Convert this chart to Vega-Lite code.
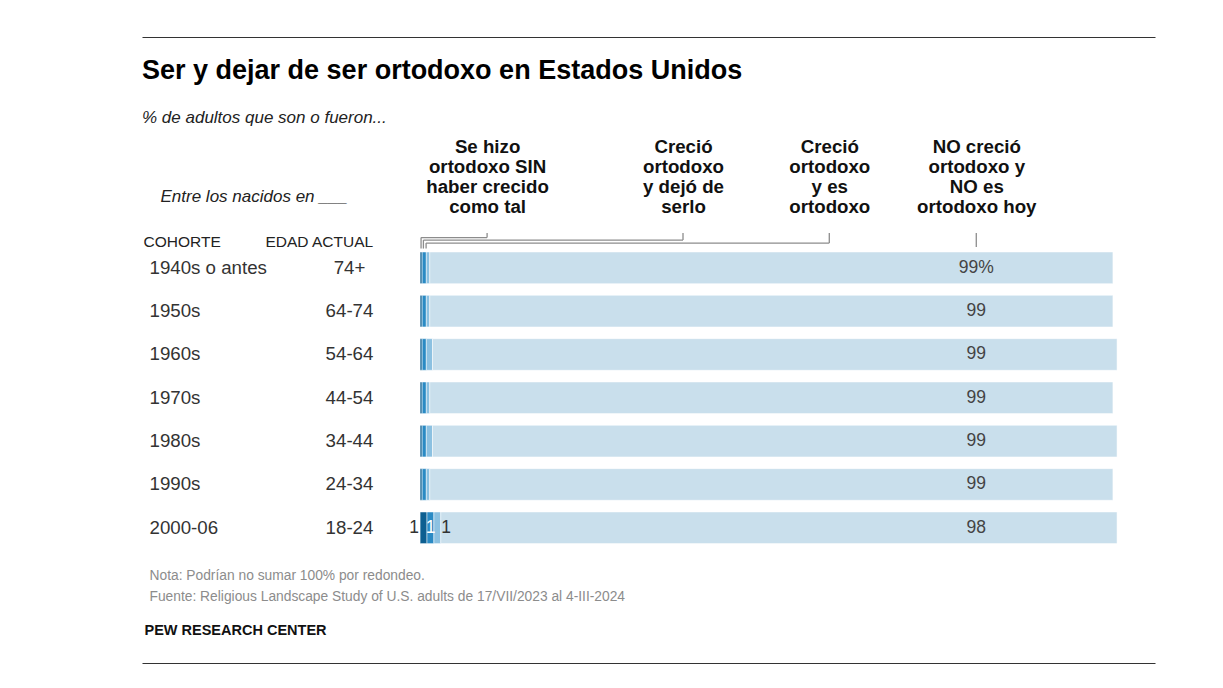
{
  "$schema": "https://vega.github.io/schema/vega-lite/v6.json",
  "width": 1013,
  "height": 626,
  "autosize": "none",
  "padding": {"left": 142, "top": 37, "right": 68, "bottom": 25},
  "background": "#ffffff",
  "config": {"view": {"stroke": null}, "font": "Liberation Sans"},
  "title": {
    "text": "Ser y dejar de ser ortodoxo en Estados Unidos",
    "subtitle": "% de adultos que son o fueron...",
    "anchor": "start",
    "frame": "group",
    "font": "Liberation Sans",
    "fontSize": 27,
    "fontWeight": "bold",
    "color": "#000000",
    "subtitleFont": "Liberation Sans",
    "subtitleFontStyle": "italic",
    "subtitleFontSize": 17,
    "subtitleColor": "#222222",
    "subtitlePadding": 25,
    "offset": -90
  },
  "data": {
    "values": [
      {"cohort": "1940s o antes", "cat": "Se hizo ortodoxo SIN haber crecido como tal", "orden": 1, "value": 0.3},
      {"cohort": "1940s o antes", "cat": "Creció ortodoxo y dejó de serlo", "orden": 2, "value": 0.6},
      {"cohort": "1940s o antes", "cat": "Creció ortodoxo y es ortodoxo", "orden": 3, "value": 0.5},
      {"cohort": "1940s o antes", "cat": "NO creció ortodoxo y NO es ortodoxo hoy", "orden": 4, "value": 99.0, "etiqueta": "99%"},
      {"cohort": "1950s", "cat": "Se hizo ortodoxo SIN haber crecido como tal", "orden": 1, "value": 0.3},
      {"cohort": "1950s", "cat": "Creció ortodoxo y dejó de serlo", "orden": 2, "value": 0.6},
      {"cohort": "1950s", "cat": "Creció ortodoxo y es ortodoxo", "orden": 3, "value": 0.5},
      {"cohort": "1950s", "cat": "NO creció ortodoxo y NO es ortodoxo hoy", "orden": 4, "value": 99.0, "etiqueta": "99"},
      {"cohort": "1960s", "cat": "Se hizo ortodoxo SIN haber crecido como tal", "orden": 1, "value": 0.3},
      {"cohort": "1960s", "cat": "Creció ortodoxo y dejó de serlo", "orden": 2, "value": 0.6},
      {"cohort": "1960s", "cat": "Creció ortodoxo y es ortodoxo", "orden": 3, "value": 0.9},
      {"cohort": "1960s", "cat": "NO creció ortodoxo y NO es ortodoxo hoy", "orden": 4, "value": 99.2, "etiqueta": "99"},
      {"cohort": "1970s", "cat": "Se hizo ortodoxo SIN haber crecido como tal", "orden": 1, "value": 0.3},
      {"cohort": "1970s", "cat": "Creció ortodoxo y dejó de serlo", "orden": 2, "value": 0.6},
      {"cohort": "1970s", "cat": "Creció ortodoxo y es ortodoxo", "orden": 3, "value": 0.5},
      {"cohort": "1970s", "cat": "NO creció ortodoxo y NO es ortodoxo hoy", "orden": 4, "value": 99.0, "etiqueta": "99"},
      {"cohort": "1980s", "cat": "Se hizo ortodoxo SIN haber crecido como tal", "orden": 1, "value": 0.3},
      {"cohort": "1980s", "cat": "Creció ortodoxo y dejó de serlo", "orden": 2, "value": 0.6},
      {"cohort": "1980s", "cat": "Creció ortodoxo y es ortodoxo", "orden": 3, "value": 0.9},
      {"cohort": "1980s", "cat": "NO creció ortodoxo y NO es ortodoxo hoy", "orden": 4, "value": 99.2, "etiqueta": "99"},
      {"cohort": "1990s", "cat": "Se hizo ortodoxo SIN haber crecido como tal", "orden": 1, "value": 0.3},
      {"cohort": "1990s", "cat": "Creció ortodoxo y dejó de serlo", "orden": 2, "value": 0.6},
      {"cohort": "1990s", "cat": "Creció ortodoxo y es ortodoxo", "orden": 3, "value": 0.5},
      {"cohort": "1990s", "cat": "NO creció ortodoxo y NO es ortodoxo hoy", "orden": 4, "value": 99.0, "etiqueta": "99"},
      {"cohort": "2000-06", "cat": "Se hizo ortodoxo SIN haber crecido como tal", "orden": 1, "value": 1, "etiqueta": "1"},
      {"cohort": "2000-06", "cat": "Creció ortodoxo y dejó de serlo", "orden": 2, "value": 1, "etiqueta": "1"},
      {"cohort": "2000-06", "cat": "Creció ortodoxo y es ortodoxo", "orden": 3, "value": 1, "etiqueta": "1"},
      {"cohort": "2000-06", "cat": "NO creció ortodoxo y NO es ortodoxo hoy", "orden": 4, "value": 98, "etiqueta": "98"}
    ]
  },
  "transform": [
    {"stack": "value", "groupby": ["cohort"], "sort": [{"field": "orden", "order": "ascending"}], "as": ["x0", "x1"]}
  ],
  "layer": [
    {
      "mark": {"type": "bar", "stroke": "#ffffff", "strokeWidth": 0.5},
      "encoding": {
        "x": {
          "field": "x0", "type": "quantitative",
          "scale": {"domain": [-40.3, 106.5], "nice": false, "zero": false},
          "axis": {
            "orient": "top", "values": [9.71, 38.1, 59.3, 80.6],
            "ticks": false, "tickSize": 0, "grid": false,
            "domain": true, "domainColor": "#333333", "domainWidth": 1.2,
            "labelExpr": "datum.value < 20 ? ['Se hizo', 'ortodoxo SIN', 'haber crecido', 'como tal'] : datum.value < 50 ? ['Creció', 'ortodoxo', 'y dejó de', 'serlo'] : datum.value < 70 ? ['Creció', 'ortodoxo', 'y es', 'ortodoxo'] : ['NO creció', 'ortodoxo y', 'NO es', 'ortodoxo hoy']",
            "labelFont": "Liberation Sans", "labelFontWeight": "bold", "labelFontSize": 18.7,
            "labelColor": "#111111", "labelLineHeight": 20.3, "labelAlign": "center",
            "labelBaseline": "bottom", "labelPadding": -119,
            "labelOverlap": false, "labelBound": false, "labelFlush": false, "labelLimit": 300,
            "title": "PEW RESEARCH CENTER", "titleX": 2, "titleY": 597, "titleAlign": "left",
            "titleAnchor": "start", "titleAngle": 0, "titleBaseline": "alphabetic",
            "titleFont": "Liberation Sans", "titleFontWeight": "bold", "titleFontSize": 14.5, "titleColor": "#111111"
          }
        },
        "x2": {"field": "x1"},
        "y": {
          "field": "cohort", "type": "nominal",
          "scale": {
            "type": "band",
            "domain": ["1940s o antes", "1950s", "1960s", "1970s", "1980s", "1990s", "2000-06"],
            "range": [209.15, 512.45],
            "paddingInner": 0.27, "paddingOuter": 0.135, "align": 0.5, "round": false
          },
          "axis": {
            "orient": "left", "ticks": false, "tickSize": 0, "domain": false, "grid": false,
            "labelAlign": "left", "labelPadding": -7, "labelBaseline": "middle",
            "labelFont": "Liberation Sans", "labelFontSize": 18.7, "labelColor": "#333333",
            "title": "COHORTE", "titleAngle": 0, "titleX": 1, "titleY": 209, "titleAlign": "left",
            "titleBaseline": "alphabetic", "titleFont": "Liberation Sans", "titleFontSize": 15.5,
            "titleFontWeight": "normal", "titleColor": "#222222"
          }
        },
        "color": {
          "field": "cat", "type": "nominal",
          "scale": {
            "domain": ["Se hizo ortodoxo SIN haber crecido como tal", "Creció ortodoxo y dejó de serlo", "Creció ortodoxo y es ortodoxo", "NO creció ortodoxo y NO es ortodoxo hoy"],
            "range": ["#0d5f91", "#2a8ac4", "#8cc1e1", "#c9dfec"]
          },
          "legend": null
        }
      }
    },
    {
      "transform": [{"filter": "datum.orden === 4"}],
      "mark": {"type": "text", "font": "Liberation Sans", "fontSize": 17.5, "color": "#444444", "align": "center", "baseline": "middle"},
      "encoding": {
        "x": {
          "datum": 80.6, "type": "quantitative",
          "axis": {
            "orient": "bottom", "ticks": false, "tickSize": 0, "labels": false, "grid": false,
            "domain": true, "domainColor": "#333333", "domainWidth": 1.2,
            "title": ["Nota: Podrían no sumar 100% por redondeo.", "Fuente: Religious Landscape Study of U.S. adults de 17/VII/2023 al 4-III-2024"],
            "titleX": 7, "titleY": -84, "titleAlign": "left", "titleAnchor": "start", "titleAngle": 0,
            "titleBaseline": "alphabetic", "titleFont": "Liberation Sans", "titleFontSize": 13.8,
            "titleFontWeight": "normal", "titleColor": "#8c8c8c", "titleLineHeight": 21
          }
        },
        "y": {
          "field": "cohort", "type": "nominal",
          "axis": {
            "orient": "right", "ticks": false, "tickSize": 0, "domain": false, "grid": false,
            "labelAlign": "center", "labelPadding": -806, "labelBaseline": "middle",
            "labelExpr": "datum.value === '1940s o antes' ? '74+' : datum.value === '1950s' ? '64-74' : datum.value === '1960s' ? '54-64' : datum.value === '1970s' ? '44-54' : datum.value === '1980s' ? '34-44' : datum.value === '1990s' ? '24-34' : '18-24'",
            "labelFont": "Liberation Sans", "labelFontSize": 18.7, "labelColor": "#333333",
            "title": "EDAD ACTUAL", "titleAngle": 0, "titleX": -890, "titleY": 209, "titleAlign": "left",
            "titleBaseline": "alphabetic", "titleFont": "Liberation Sans", "titleFontSize": 15.5,
            "titleFontWeight": "normal", "titleColor": "#222222"
          }
        },
        "text": {"field": "etiqueta"}
      }
    },
    {
      "transform": [{"filter": "datum.cohort === '2000-06' && datum.orden === 1"}],
      "mark": {"type": "text", "font": "Liberation Sans", "fontSize": 17.5, "color": "#333333", "align": "right", "baseline": "middle", "dx": -1},
      "encoding": {
        "x": {
          "field": "x0", "type": "quantitative",
          "axis": {
            "orient": "top", "ticks": false, "tickSize": 0, "labels": false, "grid": false, "domain": false,
            "title": "Entre los nacidos en ___", "titleX": 18, "titleY": 164, "titleAlign": "left",
            "titleAnchor": "start", "titleAngle": 0, "titleBaseline": "alphabetic",
            "titleFont": "Liberation Sans", "titleFontStyle": "italic", "titleFontWeight": "normal",
            "titleFontSize": 17, "titleColor": "#222222"
          }
        },
        "y": {"field": "cohort", "type": "nominal", "axis": null},
        "text": {"field": "etiqueta"}
      }
    },
    {
      "transform": [{"filter": "datum.cohort === '2000-06' && datum.orden === 2"}],
      "mark": {"type": "text", "font": "Liberation Sans", "fontSize": 17.5, "color": "#ffffff", "align": "center", "baseline": "middle", "dx": 3.5},
      "encoding": {
        "x": {"field": "x0", "type": "quantitative", "axis": null},
        "y": {"field": "cohort", "type": "nominal", "axis": null},
        "text": {"field": "etiqueta"}
      }
    },
    {
      "transform": [{"filter": "datum.cohort === '2000-06' && datum.orden === 3"}],
      "mark": {"type": "text", "font": "Liberation Sans", "fontSize": 17.5, "color": "#333333", "align": "left", "baseline": "middle", "dx": 0.5},
      "encoding": {
        "x": {"field": "x1", "type": "quantitative", "axis": null},
        "y": {"field": "cohort", "type": "nominal", "axis": null},
        "text": {"field": "etiqueta"}
      }
    },
    {
      "transform": [{"filter": "datum.cohort === '1940s o antes' && datum.orden === 1"}],
      "mark": {"type": "rule", "color": "#8c8c8c", "strokeWidth": 1.3, "yOffset": -34.75, "y2Offset": -30.25},
      "encoding": {
        "x": {"datum": 9.71, "type": "quantitative", "axis": null},
        "y": {"datum": "1940s o antes", "type": "nominal", "axis": null},
        "y2": {"datum": "1940s o antes"}
      }
    },
    {
      "transform": [{"filter": "datum.cohort === '1940s o antes' && datum.orden === 1"}],
      "mark": {"type": "rule", "color": "#8c8c8c", "strokeWidth": 1.3, "yOffset": -30.25},
      "encoding": {
        "x": {"datum": 0.14, "type": "quantitative", "axis": null},
        "x2": {"datum": 9.71},
        "y": {"datum": "1940s o antes", "type": "nominal", "axis": null}
      }
    },
    {
      "transform": [{"filter": "datum.cohort === '1940s o antes' && datum.orden === 1"}],
      "mark": {"type": "rule", "color": "#8c8c8c", "strokeWidth": 1.3, "yOffset": -30.25, "y2Offset": -19.25},
      "encoding": {
        "x": {"datum": 0.14, "type": "quantitative", "axis": null},
        "y": {"datum": "1940s o antes", "type": "nominal", "axis": null},
        "y2": {"datum": "1940s o antes"}
      }
    },
    {
      "transform": [{"filter": "datum.cohort === '1940s o antes' && datum.orden === 1"}],
      "mark": {"type": "rule", "color": "#8c8c8c", "strokeWidth": 1.3, "yOffset": -34.75, "y2Offset": -27.75},
      "encoding": {
        "x": {"datum": 38.1, "type": "quantitative", "axis": null},
        "y": {"datum": "1940s o antes", "type": "nominal", "axis": null},
        "y2": {"datum": "1940s o antes"}
      }
    },
    {
      "transform": [{"filter": "datum.cohort === '1940s o antes' && datum.orden === 1"}],
      "mark": {"type": "rule", "color": "#8c8c8c", "strokeWidth": 1.3, "yOffset": -27.75},
      "encoding": {
        "x": {"datum": 0.48, "type": "quantitative", "axis": null},
        "x2": {"datum": 38.1},
        "y": {"datum": "1940s o antes", "type": "nominal", "axis": null}
      }
    },
    {
      "transform": [{"filter": "datum.cohort === '1940s o antes' && datum.orden === 1"}],
      "mark": {"type": "rule", "color": "#8c8c8c", "strokeWidth": 1.3, "yOffset": -27.75, "y2Offset": -19.25},
      "encoding": {
        "x": {"datum": 0.48, "type": "quantitative", "axis": null},
        "y": {"datum": "1940s o antes", "type": "nominal", "axis": null},
        "y2": {"datum": "1940s o antes"}
      }
    },
    {
      "transform": [{"filter": "datum.cohort === '1940s o antes' && datum.orden === 1"}],
      "mark": {"type": "rule", "color": "#8c8c8c", "strokeWidth": 1.3, "yOffset": -34.75, "y2Offset": -24.75},
      "encoding": {
        "x": {"datum": 59.3, "type": "quantitative", "axis": null},
        "y": {"datum": "1940s o antes", "type": "nominal", "axis": null},
        "y2": {"datum": "1940s o antes"}
      }
    },
    {
      "transform": [{"filter": "datum.cohort === '1940s o antes' && datum.orden === 1"}],
      "mark": {"type": "rule", "color": "#8c8c8c", "strokeWidth": 1.3, "yOffset": -24.75},
      "encoding": {
        "x": {"datum": 0.87, "type": "quantitative", "axis": null},
        "x2": {"datum": 59.3},
        "y": {"datum": "1940s o antes", "type": "nominal", "axis": null}
      }
    },
    {
      "transform": [{"filter": "datum.cohort === '1940s o antes' && datum.orden === 1"}],
      "mark": {"type": "rule", "color": "#8c8c8c", "strokeWidth": 1.3, "yOffset": -24.75, "y2Offset": -19.25},
      "encoding": {
        "x": {"datum": 0.87, "type": "quantitative", "axis": null},
        "y": {"datum": "1940s o antes", "type": "nominal", "axis": null},
        "y2": {"datum": "1940s o antes"}
      }
    },
    {
      "transform": [{"filter": "datum.cohort === '1940s o antes' && datum.orden === 1"}],
      "mark": {"type": "rule", "color": "#8c8c8c", "strokeWidth": 1.3, "yOffset": -34.75, "y2Offset": -20.75},
      "encoding": {
        "x": {"datum": 80.6, "type": "quantitative", "axis": null},
        "y": {"datum": "1940s o antes", "type": "nominal", "axis": null},
        "y2": {"datum": "1940s o antes"}
      }
    }
  ],
  "resolve": {"axis": {"x": "independent", "y": "independent"}}
}
